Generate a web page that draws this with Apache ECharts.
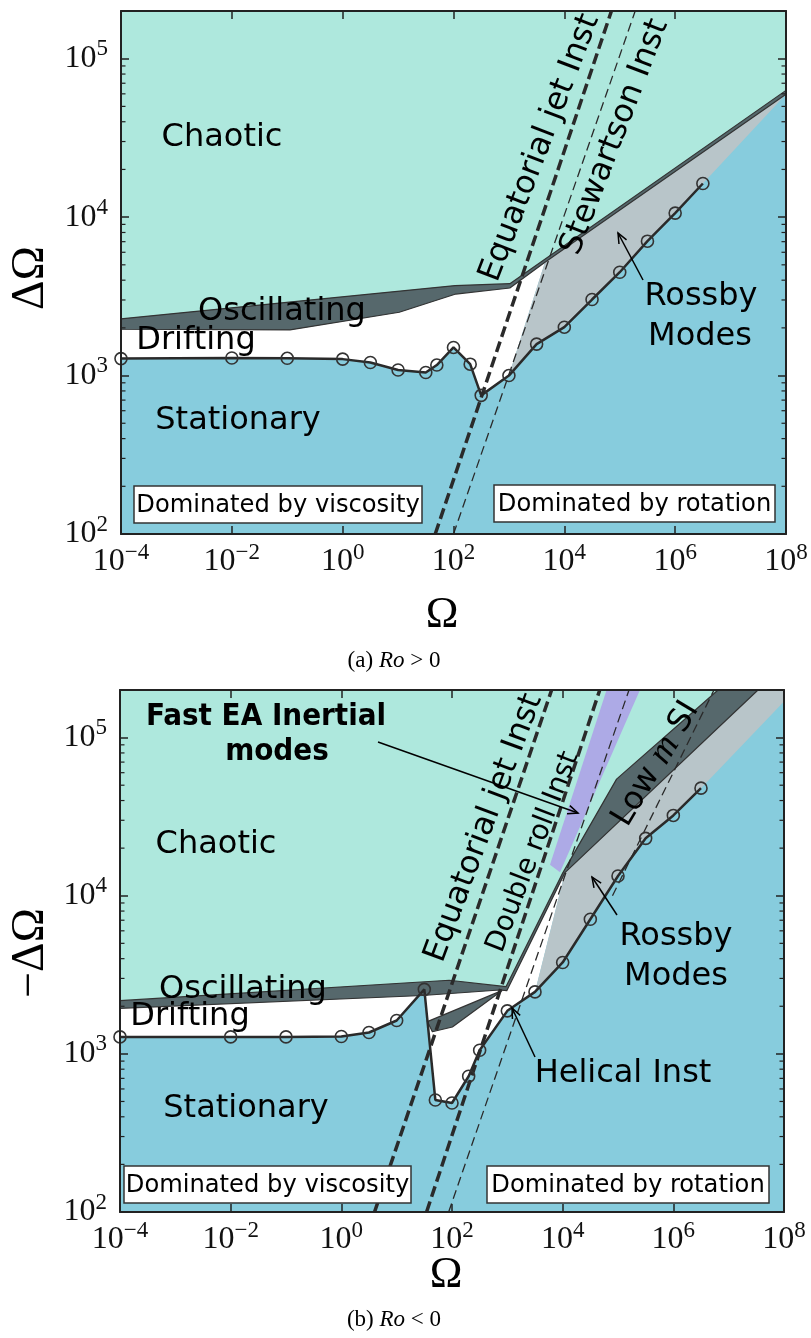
<!DOCTYPE html>
<html><head><meta charset="utf-8">
<script src="https://cdn.jsdelivr.net/npm/echarts@6/dist/echarts.min.js"></script>
<style>html,body{margin:0;padding:0;background:#fff}#c{width:811px;height:1338px}</style>
</head><body><div id="c"></div>
<script>
// ---------------- data ----------------
const OMEGA = [1e-4, 1e-2, 0.1, 1, 3.16, 10, 31.6, 50, 100, 200, 316, 1000, 3162, 1e4, 31623, 1e5, 316228, 1e6, 3162278];
const DOMEGA_POS = [1280, 1290, 1285, 1270, 1210, 1085, 1045, 1165, 1505, 1180, 750, 1000, 1580, 2020, 3020, 4490, 7050, 10600, 16300];
const DOMEGA_NEG = [1280, 1280, 1280, 1288, 1365, 1626, 2559, 511, 489, 722, 1054, 1871, 2466, 3784, 7096, 13330, 23070, 32200, 47900];

// panel (a) Ro>0 region boundaries [Omega, DeltaOmega]
const A_OSC_TOP = [[1e-4, 2280], [107, 3700], [1040, 3800], [1e8, 63100]];
const A_OSC_BOTTOM = [[1e-4, 1960], [0.112, 1940], [10.5, 2510], [110, 3270], [1040, 3570], [4470, 5190], [1e8, 59600]];
const A_EQJET = [[46.8, 100], [70800, 2e5]];
const A_STEWARTSON = [[100, 100], [190000, 2e5]];

// panel (b) Ro<0 region boundaries [Omega, -DeltaOmega]
const B_OSC_TOP = [[1e-4, 2170], [89, 2920], [944, 2660], [1e4, 13900], [94200, 54600], [6.43e6, 2e5]];
const B_OSC_BOTTOM = [[1e-4, 1940], [29.5, 2340], [724, 2535], [977, 2510], [11000, 14000], [3.39e7, 2e5]];
const B_WEDGE = [[35.9, 1600], [794, 2510], [101.6, 1479], [44.2, 1380]];
const B_INERTIAL = [[5900, 15700], [8950, 14100], [249000, 2e5], [62200, 2e5]];
const B_ROSSBY_EDGE = [[1e8, 2e5], [1e8, 1.69e5]];
const B_EQJET = [[3.98, 100], [6310, 2e5]];
const B_DOUBLEROLL = [[34.7, 100], [46800, 2e5]];
const B_STEWARTSON = [[87, 100], [158000, 2e5]];
const B_LOWMSI = [[79400, 10000], [5.43e6, 2e5]];

const Y_MINOR_MULT = [2, 3, 4, 5, 6, 7, 8, 9];
const Y_DECADES = [100, 1000, 10000, 100000];

// ---------------- build ----------------
const circA = OMEGA.map((o, i) => [o, DOMEGA_POS[i]]);
const circB = OMEGA.map((o, i) => [o, DOMEGA_NEG[i]]);
const rev = a => a.slice().reverse();

const A_CHAOTIC = A_OSC_TOP.concat([[1e8, 2e5], [1e-4, 2e5]]);
const A_OSC = A_OSC_TOP.concat(rev(A_OSC_BOTTOM));
const A_DRIFT = A_OSC_BOTTOM.slice(0, 6).concat(rev(circA.slice(0, 12)));
const A_ROSSBY = [circA[11], A_OSC_BOTTOM[5], A_OSC_BOTTOM[6]].concat(rev(circA.slice(11)));

const B_CHAOTIC = B_OSC_TOP.concat([[1e-4, 2e5]]);
const B_OSC = B_OSC_TOP.concat(rev(B_OSC_BOTTOM));
const B_DRIFT = B_OSC_BOTTOM.slice(0, 5).concat(rev(circB.slice(0, 13)));
const B_ROSSBY = [B_OSC_BOTTOM[4], B_OSC_BOTTOM[5]].concat(B_ROSSBY_EDGE, rev(circB.slice(12)));

const C_TEAL = '#AEE8DD', C_BLUE = '#87CCDD', C_DARK = '#56686C', C_GREY = '#B8C5C9', C_PURPLE = '#ADAAE6';
const INK = '#222';

function poly(gi, pts, fill, stroke, z) {
  return {
    type: 'custom', xAxisIndex: gi * 2, yAxisIndex: gi * 2, data: [0], z: z, silent: true, animation: false,
    renderItem: (p, api) => ({
      type: 'polygon',
      shape: { points: pts.map(q => api.coord(q)) },
      style: { fill: fill, stroke: stroke || null, lineWidth: stroke ? 1.2 : 0, lineJoin: 'round' }
    })
  };
}
function dashed(gi, pts, w, dash, z) {
  return {
    type: 'line', xAxisIndex: gi * 2, yAxisIndex: gi * 2, data: pts, symbol: 'none', z: z, silent: true,
    animation: false, lineStyle: { color: '#2a2a2a', width: w, type: dash }
  };
}
function circles(gi, pts) {
  return {
    type: 'line', xAxisIndex: gi * 2, yAxisIndex: gi * 2, data: pts, symbol: 'circle', symbolSize: 12,
    showSymbol: true, z: 12, silent: true, animation: false,
    lineStyle: { color: '#2a2a2a', width: 2.5 },
    itemStyle: { color: 'rgba(0,0,0,0)', borderColor: '#333', borderWidth: 1.6 }
  };
}
function minorTicks(gi) {
  return {
    type: 'custom', xAxisIndex: gi * 2, yAxisIndex: gi * 2, data: [0], z: 30, silent: true, animation: false,
    renderItem: (p, api) => {
      const ch = [];
      Y_DECADES.forEach(d => Y_MINOR_MULT.forEach(m => {
        const v = d * m;
        if (v >= 2e5) return;
        const l = api.coord([1e-4, v]), r = api.coord([1e8, v]);
        ch.push({ type: 'line', shape: { x1: l[0], y1: l[1], x2: l[0] + 4.5, y2: l[1] }, style: { stroke: INK, lineWidth: 1.2 } });
        ch.push({ type: 'line', shape: { x1: r[0], y1: r[1], x2: r[0] - 4.5, y2: r[1] }, style: { stroke: INK, lineWidth: 1.2 } });
      }));
      return { type: 'group', children: ch };
    }
  };
}

function powLabel(v) {
  const e = Math.log10(v), r = Math.round(e);
  if (Math.abs(e - r) > 1e-6) return '';
  return '{b|10}{s|' + (r < 0 ? '\u2212' + (-r) : r) + '}';
}
const RICH = {
  b: { fontFamily: 'Liberation Serif', fontSize: 32, lineHeight: 42, color: '#111' },
  s: { fontFamily: 'Liberation Serif', fontSize: 23, lineHeight: 20, verticalAlign: 'top', color: '#111' }
};
function xAx(gi, pos, lab) {
  return {
    type: 'log', logBase: 100, gridIndex: gi, position: pos, min: 1e-4, max: 1e8, z: 50,
    axisLine: { show: true, onZero: false, lineStyle: { color: INK, width: 2 } },
    axisTick: { show: true, inside: true, length: 8, lineStyle: { color: INK, width: 1.5 } },
    axisLabel: { show: lab, formatter: powLabel, margin: 7, rich: RICH },
    splitLine: { show: false }, minorTick: { show: false }
  };
}
function yAx(gi, pos, lab) {
  return {
    type: 'log', logBase: 10, gridIndex: gi, position: pos, min: 100, max: 2e5, z: 50,
    axisLine: { show: true, onZero: false, lineStyle: { color: INK, width: 2 } },
    axisTick: { show: true, inside: true, length: 8, lineStyle: { color: INK, width: 1.5 } },
    axisLabel: { show: lab, formatter: powLabel, margin: 13, rich: RICH },
    splitLine: { show: false }
  };
}

// ---------------- annotations ----------------
const SANS = 'DejaVu Sans';
function txt(x, y, s, size, opt) {
  opt = opt || {};
  return {
    type: 'text', x: x, y: y, rotation: (opt.rot || 0) * Math.PI / 180, z: 100, silent: true,
    style: {
      text: s, fontSize: size, fontFamily: opt.family || SANS, fontWeight: opt.weight || 'normal',
      fill: '#000', align: 'center', verticalAlign: 'middle', textAlign: 'center', textVerticalAlign: 'middle',
      rich: opt.rich, lineHeight: opt.lh
    }
  };
}
function box(x, y, w, h, s) {
  return [
    { type: 'rect', z: 100, silent: true, shape: { x: x, y: y, width: w, height: h }, style: { fill: '#fff', stroke: '#333', lineWidth: 1.5 } },
    txt(x + w / 2, y + h / 2 + 1, s, 24.2)
  ];
}
function arrow(x1, y1, x2, y2) {
  const a = Math.atan2(y2 - y1, x2 - x1), L = 11, sp = 0.4;
  return [
    { type: 'line', z: 100, silent: true, shape: { x1: x1, y1: y1, x2: x2, y2: y2 }, style: { stroke: '#000', lineWidth: 1.5 } },
    { type: 'polyline', z: 100, silent: true, shape: { points: [
      [x2 - L * Math.cos(a - sp), y2 - L * Math.sin(a - sp)], [x2, y2], [x2 - L * Math.cos(a + sp), y2 - L * Math.sin(a + sp)] ] },
      style: { stroke: '#000', lineWidth: 1.5, fill: null } }
  ];
}
const SERIF_RICH = {
  r: { fontFamily: 'Liberation Serif', fontSize: 23, color: '#000' },
  i: { fontFamily: 'Liberation Serif', fontSize: 23, fontStyle: 'italic', color: '#000' }
};
const LOWM_RICH = {
  a: { fontFamily: SANS, fontSize: 32, color: '#000' },
  m: { fontFamily: 'Liberation Serif', fontSize: 36, fontStyle: 'italic', color: '#000' }
};

const graphics = [].concat(
  // panel a
  txt(222, 138, 'Chaotic', 32),
  txt(282, 312, 'Oscillating', 32),
  txt(196, 341, 'Drifting', 32),
  txt(238, 421, 'Stationary', 32),
  txt(701, 297, 'Rossby', 32),
  txt(700, 337, 'Modes', 32),
  arrow(643, 280, 618, 233),
  txt(540, 148, 'Equatorial jet Inst', 32, { rot: 69 }),
  txt(615, 137, 'Stewartson Inst', 32, { rot: 69 }),
  box(134, 486, 288, 37, 'Dominated by viscosity'),
  box(494, 485, 281, 37, 'Dominated by rotation'),
  txt(31, 278, '\u0394\u03A9', 46, { rot: 90, family: 'Liberation Serif' }),
  txt(442, 615, '\u03A9', 44, { family: 'Liberation Serif' }),
  txt(394, 661, '{r|(a) }{i|Ro}{r| > 0}', 23, { rich: SERIF_RICH }),
  // panel b
  txt(266, 717, 'Fast EA Inertial', 31, { weight: 'bold', family: "'DejaVu Sans Condensed', 'DejaVu Sans'" }),
  txt(277, 752, 'modes', 31, { weight: 'bold', family: "'DejaVu Sans Condensed', 'DejaVu Sans'" }),
  arrow(378, 742, 578, 813),
  txt(216, 845, 'Chaotic', 32),
  txt(243, 990, 'Oscillating', 32),
  txt(190, 1017, 'Drifting', 32),
  txt(246, 1109, 'Stationary', 32),
  txt(676, 937, 'Rossby', 32),
  txt(676, 977, 'Modes', 32),
  arrow(617, 915, 592, 877),
  txt(623, 1074, 'Helical Inst', 32),
  arrow(535, 1057, 512, 1008),
  txt(484, 828, 'Equatorial jet Inst', 32, { rot: 69.5 }),
  txt(533, 852, 'Double roll Inst', 28, { rot: 69 }),
  txt(656, 764, '{a|Low }{m|m}{a| SI}', 32, { rot: 59, rich: LOWM_RICH }),
  box(124, 1166, 287, 37, 'Dominated by viscosity'),
  box(487, 1166, 282, 37, 'Dominated by rotation'),
  txt(31, 953, '\u2212\u0394\u03A9', 46, { rot: 90, family: 'Liberation Serif' }),
  txt(446, 1275, '\u03A9', 44, { family: 'Liberation Serif' }),
  txt(394, 1320, '{r|(b) }{i|Ro}{r| < 0}', 23, { rich: SERIF_RICH })
);

const chart = echarts.init(document.getElementById('c'), null, { renderer: 'canvas' });
chart.setOption({
  animation: false,
  backgroundColor: '#fff',
  grid: [
    { left: 121, top: 11, width: 665, height: 523, show: true, backgroundColor: C_BLUE, borderWidth: 0 },
    { left: 120, top: 690, width: 664, height: 522, show: true, backgroundColor: C_BLUE, borderWidth: 0 }
  ],
  xAxis: [xAx(0, 'bottom', true), xAx(0, 'top', false), xAx(1, 'bottom', true), xAx(1, 'top', false)],
  yAxis: [yAx(0, 'left', true), yAx(0, 'right', false), yAx(1, 'left', true), yAx(1, 'right', false)],
  series: [
    // panel a
    poly(0, A_CHAOTIC, C_TEAL, null, 2),
    poly(0, A_DRIFT, '#fff', null, 3),
    poly(0, A_ROSSBY, C_GREY, null, 4),
    poly(0, A_OSC, C_DARK, '#333', 5),
    dashed(0, A_EQJET, 3.5, [11, 5], 8),
    dashed(0, A_STEWARTSON, 1.3, [9, 5], 8),
    circles(0, circA),
    minorTicks(0),
    // panel b
    poly(1, B_CHAOTIC, C_TEAL, null, 2),
    poly(1, B_DRIFT, '#fff', null, 3),
    poly(1, B_ROSSBY, C_GREY, null, 4),
    poly(1, B_OSC, C_DARK, '#333', 5),
    poly(1, B_WEDGE, C_DARK, '#333', 5),
    poly(1, B_INERTIAL, C_PURPLE, null, 6),
    dashed(1, B_EQJET, 3.5, [11, 5], 8),
    dashed(1, B_DOUBLEROLL, 3.5, [11, 5], 8),
    dashed(1, B_STEWARTSON, 1.3, [9, 5], 8),
    dashed(1, B_LOWMSI, 1.3, [9, 5], 8),
    circles(1, circB),
    minorTicks(1)
  ],
  graphic: graphics
});
</script>
</body></html>
